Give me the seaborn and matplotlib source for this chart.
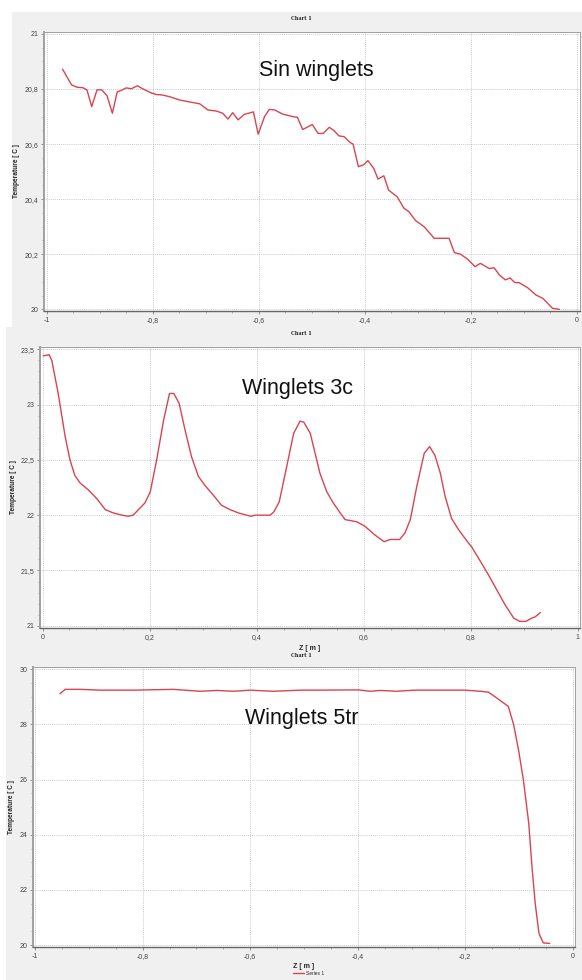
import matplotlib
matplotlib.use("Agg")
import matplotlib.pyplot as plt
import pandas as pd
import seaborn as sns
from matplotlib.patches import Rectangle
from matplotlib.ticker import FuncFormatter, MultipleLocator

# Temperature along Z
sin_z = [-0.970, -0.962, -0.953, -0.942, -0.932, -0.924, -0.915, -0.905, -0.896, -0.886,
         -0.876, -0.867, -0.857, -0.850, -0.840, -0.829, -0.819, -0.802, -0.793, -0.781,
         -0.768, -0.749, -0.730, -0.711, -0.696, -0.680, -0.668, -0.658, -0.649, -0.639,
         -0.627, -0.610, -0.601, -0.589, -0.580, -0.570, -0.555, -0.536, -0.527, -0.517,
         -0.499, -0.488, -0.478, -0.467, -0.458, -0.449, -0.439, -0.427, -0.422, -0.412,
         -0.402, -0.394, -0.383, -0.375, -0.364, -0.355, -0.339, -0.326, -0.317, -0.304,
         -0.288, -0.269, -0.241, -0.231, -0.219, -0.206, -0.192, -0.182, -0.165, -0.156,
         -0.146, -0.135, -0.126, -0.117, -0.109, -0.093, -0.077, -0.064, -0.046, -0.033]
sin_t = [20.872, 20.845, 20.815, 20.806, 20.805, 20.797, 20.736, 20.797, 20.797, 20.775,
         20.712, 20.789, 20.797, 20.804, 20.801, 20.812, 20.801, 20.785, 20.780, 20.778,
         20.772, 20.760, 20.753, 20.746, 20.724, 20.720, 20.712, 20.691, 20.714, 20.688,
         20.708, 20.717, 20.636, 20.700, 20.726, 20.724, 20.709, 20.700, 20.697, 20.653,
         20.671, 20.639, 20.639, 20.661, 20.649, 20.630, 20.627, 20.605, 20.600, 20.518,
         20.525, 20.540, 20.512, 20.473, 20.485, 20.433, 20.409, 20.367, 20.355, 20.322,
         20.300, 20.258, 20.258, 20.206, 20.200, 20.182, 20.155, 20.167, 20.148, 20.151,
         20.125, 20.107, 20.114, 20.097, 20.097, 20.079, 20.052, 20.040, 20.004, 20.000]

c3_z = [0.001, 0.012, 0.017, 0.023, 0.029, 0.036, 0.042, 0.051, 0.060, 0.070,
        0.085, 0.101, 0.117, 0.132, 0.148, 0.160, 0.169, 0.179, 0.191, 0.201,
        0.213, 0.226, 0.237, 0.245, 0.255, 0.266, 0.278, 0.291, 0.303, 0.319,
        0.334, 0.350, 0.366, 0.381, 0.389, 0.397, 0.412, 0.425, 0.432, 0.442,
        0.456, 0.469, 0.481, 0.488, 0.500, 0.509, 0.518, 0.531, 0.543, 0.556,
        0.565, 0.587, 0.602, 0.621, 0.638, 0.649, 0.667, 0.677, 0.687, 0.699,
        0.713, 0.723, 0.733, 0.743, 0.752, 0.764, 0.777, 0.789, 0.802, 0.817,
        0.833, 0.849, 0.864, 0.880, 0.891, 0.903, 0.914, 0.920, 0.930]
c3_t = [23.44, 23.45, 23.40, 23.25, 23.10, 22.89, 22.71, 22.50, 22.36, 22.29,
        22.23, 22.15, 22.05, 22.02, 22.00, 21.99, 22.00, 22.05, 22.11, 22.21,
        22.50, 22.86, 23.10, 23.10, 23.01, 22.77, 22.53, 22.35, 22.27, 22.18,
        22.09, 22.05, 22.02, 22.00, 21.99, 22.00, 22.00, 22.00, 22.03, 22.12,
        22.44, 22.74, 22.85, 22.84, 22.74, 22.56, 22.38, 22.21, 22.11, 22.02,
        21.96, 21.94, 21.90, 21.82, 21.76, 21.78, 21.78, 21.84, 21.96, 22.26,
        22.56, 22.62, 22.54, 22.38, 22.17, 21.97, 21.87, 21.79, 21.71, 21.59,
        21.46, 21.32, 21.19, 21.07, 21.04, 21.04, 21.07, 21.08, 21.12]

tr5_z = [-0.954, -0.944, -0.916, -0.879, -0.817, -0.743, -0.693, -0.662, -0.631, -0.600,
         -0.557, -0.507, -0.482, -0.399, -0.377, -0.358, -0.327, -0.296, -0.200, -0.172,
         -0.157, -0.141, -0.120, -0.110, -0.101, -0.092, -0.082, -0.076, -0.070, -0.063,
         -0.055, -0.043]
tr5_t = [29.11, 29.27, 29.27, 29.24, 29.24, 29.27, 29.20, 29.23, 29.20, 29.24,
         29.20, 29.24, 29.24, 29.25, 29.20, 29.23, 29.20, 29.24, 29.24, 29.20,
         29.17, 28.95, 28.65, 27.98, 27.07, 25.99, 24.41, 22.84, 21.51, 20.42,
         20.08, 20.06]

panel_titles = ["Sin winglets", "Winglets 3c", "Winglets 5tr"]

W, H = 582, 980
LINE_RED = "#d9444f"
BG_GRAY = "#f0f0f0"

sns.set_theme(style="white")
plt.rcParams["font.family"] = ["Liberation Sans", "DejaVu Sans"]


def px_box(left, top, right, bottom):
    """Pixel box (origin top-left) -> figure fraction rect."""
    return [left / W, 1 - bottom / H, (right - left) / W, (bottom - top) / H]


def comma_fmt(v, pos):
    if abs(v) < 1e-9:
        v = 0
    return f"{v:g}".replace(".", ",")


def style_axes(ax, xlim, ylim, xmaj, xmin, ymaj, ymin):
    ax.set_xlim(*xlim)
    ax.set_ylim(*ylim)
    ax.xaxis.set_major_locator(MultipleLocator(xmaj))
    ax.xaxis.set_minor_locator(MultipleLocator(xmin))
    ax.yaxis.set_major_locator(MultipleLocator(ymaj))
    ax.yaxis.set_minor_locator(MultipleLocator(ymin))
    ax.xaxis.set_major_formatter(FuncFormatter(comma_fmt))
    ax.yaxis.set_major_formatter(FuncFormatter(comma_fmt))
    ax.grid(True, which="major", color="#b8b8b8", linestyle=(0, (1, 1.5)), linewidth=0.6)
    ax.tick_params(which="major", length=2.5, width=0.6, color="#808080",
                   labelsize=5, labelcolor="#444444", pad=1.5,
                   bottom=True, left=True)
    ax.tick_params(which="minor", length=1.5, width=0.5, color="#909090",
                   bottom=True, left=True)
    for side, sp in ax.spines.items():
        sp.set_color("#a0a0a0")
        sp.set_linewidth(0.7)
    ax.spines["left"].set_linewidth(1.4)
    ax.spines["bottom"].set_color("#666666")
    ax.spines["bottom"].set_linewidth(1.0)
    ax.set_xlabel("")
    ax.set_ylabel("Temperature [ C ]", fontsize=4.7, fontweight="bold", color="#222222")


fig = plt.figure(figsize=(W / 100, H / 100), dpi=100)

# screenshot backgrounds (each later one laps over the one above)
bg_boxes = [(12, 12, 582, 327.5), (6, 327.5, 582, 650), (6, 648, 582, 980)]
for i, (l, t, r, b) in enumerate(bg_boxes):
    x0, y0, w, h = px_box(l, t, r, b)
    fig.add_artist(Rectangle((x0, y0), w, h, transform=fig.transFigure,
                             facecolor=BG_GRAY, edgecolor="none", zorder=-3 + i))

for y_px in (19, 333.5, 655):
    fig.text(301 / W, 1 - y_px / H, "Chart 1", ha="center", va="center",
             fontsize=3.5, fontweight="bold", family="DejaVu Serif", color="#222222")

# panel 1: Sin winglets
ax1 = fig.add_axes(px_box(44, 32, 580, 311))
df1 = pd.DataFrame({"z": sin_z, "t": sin_t})
sns.lineplot(data=df1, x="z", y="t", ax=ax1, color=LINE_RED, linewidth=1.0,
             sort=False, estimator=None)
style_axes(ax1, (-1.005, 0.006), (19.994, 21.007), 0.2, 0.05, 0.2, 0.05)
ax1.yaxis.set_label_coords((20 - 44) / 536, 0.5)

# panel 2: Winglets 3c
ax2 = fig.add_axes(px_box(40, 347, 580, 628))
df2 = pd.DataFrame({"z": c3_z, "t": c3_t})
sns.lineplot(data=df2, x="z", y="t", ax=ax2, color=LINE_RED, linewidth=1.0,
             sort=False, estimator=None)
style_axes(ax2, (-0.005, 1.004), (20.98, 23.52), 0.2, 0.05, 0.5, 0.1)
ax2.yaxis.set_label_coords((17 - 40) / 540, 0.5)
ax2.set_xlabel("Z [ m ]", fontsize=5, fontweight="bold", color="#222222")
ax2.xaxis.set_label_coords(0.5, (628 - 645) / 281)

# panel 3: Winglets 5tr
ax3 = fig.add_axes(px_box(33, 667, 575, 947))
df3 = pd.DataFrame({"z": tr5_z, "t": tr5_t})
sns.lineplot(data=df3, x="z", y="t", ax=ax3, color=LINE_RED, linewidth=1.0,
             sort=False, estimator=None, label="Series 1")
style_axes(ax3, (-1.004, 0.004), (19.93, 30.08), 0.2, 0.05, 2, 0.5)
ax3.yaxis.set_label_coords((15 - 33) / 542, 0.5)
ax3.set_xlabel("Z [ m ]", fontsize=5, fontweight="bold", color="#222222")
ax3.xaxis.set_label_coords(0.5, (947 - 963) / 280)
ax3.legend(loc="center", bbox_to_anchor=(309 / W, 1 - 973 / H),
           bbox_transform=fig.transFigure, frameon=False, fontsize=3.5,
           handlelength=2.2, handletextpad=0.5, borderpad=0)

# big captions pasted on the screenshots
for (x_px, y_px), title in zip([(259, 76), (242, 394), (245, 724)], panel_titles):
    fig.text(x_px / W, 1 - y_px / H, title, ha="left", va="baseline",
             fontsize=15.5, color="#111111")

fig.savefig("out.png", dpi=100)
plt.close(fig)
